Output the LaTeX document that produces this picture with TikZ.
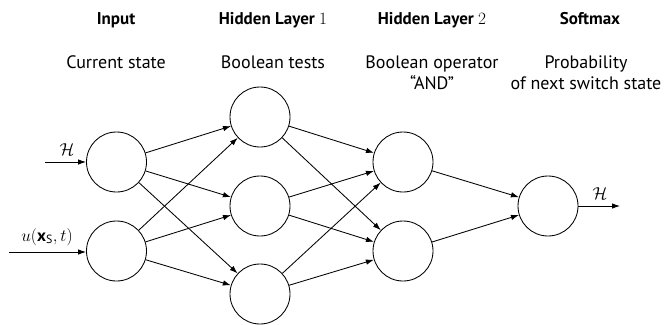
\documentclass[tikz,border=0pt]{standalone}
\usepackage{fontspec}
\setmainfont{PT Sans}
\usetikzlibrary{arrows.meta}
\begin{document}
\begin{tikzpicture}[x=1pt,y=-1pt,
  neuron/.style={draw,circle,line width=0.85pt,minimum size=60pt,inner sep=0pt},
  link/.style={line width=0.85pt,-{Latex[length=8pt,width=5.5pt]}},
  head/.style={font=\fontsize{17}{20}\selectfont\bfseries,anchor=base},
  desc/.style={font=\fontsize{18}{21}\selectfont,align=center,anchor=base},
  lab/.style={font=\fontsize{17}{20}\selectfont}]
\useasboundingbox (0,0) rectangle (669,324);

% column headings
\node[head] (tIn) at (116,24) {Input};
\node[head] (tH1) at (273,24) {Hidden Layer \mdseries$1$};
\node[head] (tH2) at (432,24) {Hidden Layer \mdseries$2$};
\node[head] (tSm) at (590,24) {Softmax};

% column descriptions (base anchor sits on the last line)
\node[desc] (dIn) at (116,68) {Current state};
\node[desc] (dH1) at (273,68) {Boolean tests};
\node[desc] (dH2) at (432,89) {Boolean operator\\``AND''};
\node[desc] (dSm) at (586,89) {Probability\\of next switch state};

% neurons
\node[neuron] (i1) at (116.5,162) {};
\node[neuron] (i2) at (116.5,251) {};
\node[neuron] (h1) at (260,117) {};
\node[neuron] (h2) at (260,206) {};
\node[neuron] (h3) at (260,294) {};
\node[neuron] (a1) at (403,162) {};
\node[neuron] (a2) at (403,251) {};
\node[neuron] (s)  at (548,206) {};

% external inputs and output
\coordinate (inH) at (45,162);
\coordinate (inU) at (9,252);
\coordinate (outH) at (620,206);
\draw[link] (inH) -- (i1);
\draw[link] (inU) -- (i2.west |- inU);
\draw[link] (s) -- (outH);
\node[lab] (lH) at (67,150) {$\mathcal{H}$};
\node[lab] (lU) at (47,237) {$u(\mathbf{x}_{\mathrm{S}},t)$};
\node[lab] (lO) at (600,194) {$\mathcal{H}$};

% full connections between layers
\foreach \a in {i1,i2}
  \foreach \b in {h1,h2,h3}
    \draw[link] (\a) -- (\b);
\foreach \a in {h1,h2,h3}
  \foreach \b in {a1,a2}
    \draw[link] (\a) -- (\b);
\foreach \a in {a1,a2}
  \draw[link] (\a) -- (s);
\end{tikzpicture}
\end{document}
